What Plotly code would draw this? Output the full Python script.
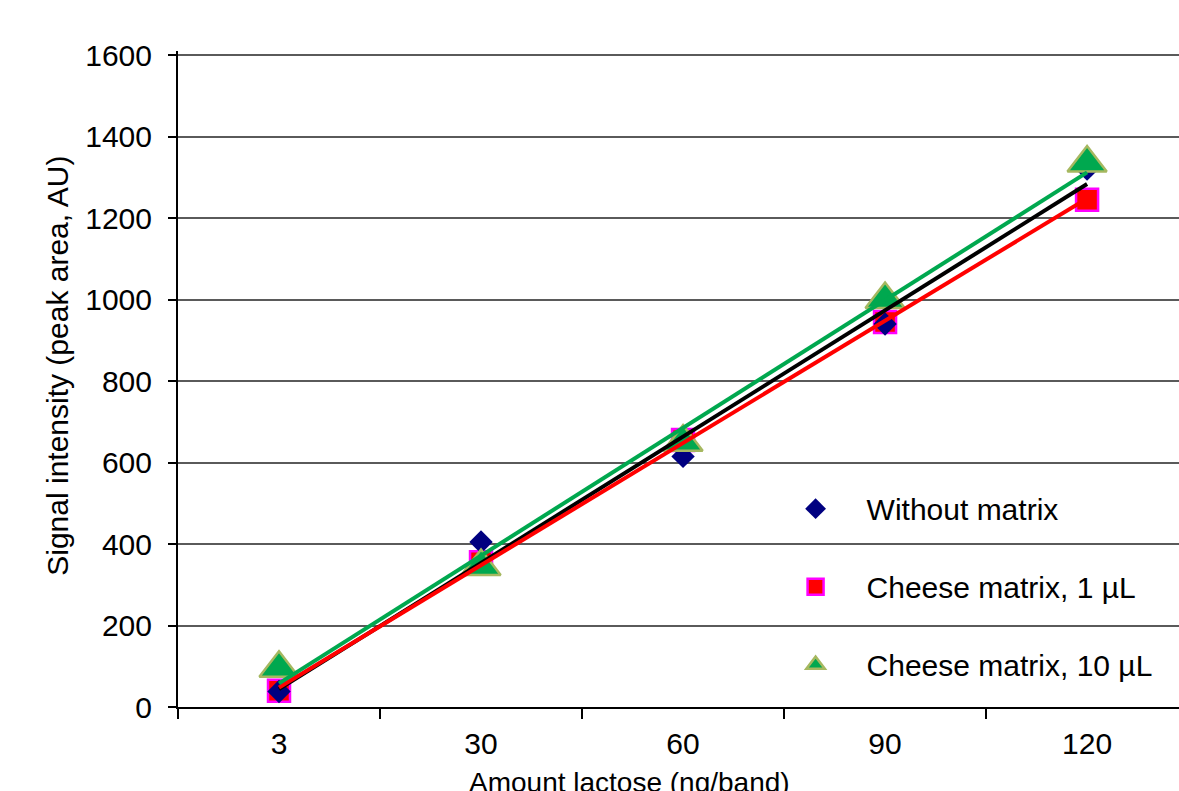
import numpy as np
import plotly.graph_objects as go

# ---- data ----
categories = ["3", "30", "60", "90", "120"]
without_matrix = [38, 405, 615, 940, 1320]
cheese_1ul = [40, 355, 655, 945, 1245]
cheese_10ul = [95, 345, 650, 1000, 1335]
y_ticks = [0, 200, 400, 600, 800, 1000, 1200, 1400, 1600]

series_names = ["Without matrix", "Cheese matrix, 1 µL", "Cheese matrix, 10 µL"]

FONT = "Liberation Sans, Arial, sans-serif"
NAVY = "#000080"
RED = "#FF0000"
MAGENTA = "#FF00FF"
GREEN = "#00A84F"
OLIVE = "#A6B860"


def trend(vals):
    idx = np.arange(len(vals))
    k, b = np.polyfit(idx, vals, 1)
    return list(k * idx + b)


fig = go.Figure()

# markers (square drawn first, diamond over it, triangle on top)
fig.add_trace(go.Scatter(
    x=categories, y=cheese_1ul, mode="markers", name=series_names[1],
    legendgroup="b", legendrank=2,
    marker=dict(symbol="square", size=22, color=RED,
                line=dict(color=MAGENTA, width=2.5)),
    cliponaxis=False))
fig.add_trace(go.Scatter(
    x=categories, y=without_matrix, mode="markers", name=series_names[0],
    legendgroup="a", legendrank=1,
    marker=dict(symbol="diamond", size=18, color=NAVY,
                line=dict(color=NAVY, width=0)),
    cliponaxis=False))
fig.add_trace(go.Scatter(
    x=categories, y=cheese_10ul, mode="markers", name=series_names[2],
    legendgroup="c", legendrank=3,
    marker=dict(symbol="triangle-up", size=34, color=GREEN,
                line=dict(color=OLIVE, width=2.5)),
    cliponaxis=False))

# linear trend lines
fig.add_trace(go.Scatter(x=categories, y=trend(without_matrix), mode="lines",
                         line=dict(color="black", width=4), showlegend=False,
                         hoverinfo="skip"))
fig.add_trace(go.Scatter(x=categories, y=trend(cheese_1ul), mode="lines",
                         line=dict(color=RED, width=4), showlegend=False,
                         hoverinfo="skip"))
fig.add_trace(go.Scatter(x=categories, y=trend(cheese_10ul), mode="lines",
                         line=dict(color=GREEN, width=4), showlegend=False,
                         hoverinfo="skip"))

fig.update_layout(
    width=1179, height=791,
    margin=dict(l=178, r=0, t=51, b=84),
    paper_bgcolor="white", plot_bgcolor="white",
    font=dict(family=FONT, color="black", size=30),
    showlegend=True,
    legend=dict(
        x=0.586, y=0.342, xanchor="left", yanchor="top",
        bgcolor="rgba(0,0,0,0)", borderwidth=0,
        font=dict(family=FONT, size=30, color="black"),
        traceorder="grouped", tracegroupgap=36, itemwidth=92,
    ),
    xaxis=dict(
        type="category", categoryorder="array", categoryarray=categories,
        range=[-0.5, 4.455],
        showgrid=False, zeroline=False,
        showline=True, linecolor="black", linewidth=2,
        ticks="outside", tickson="boundaries", ticklen=10,
        tickwidth=2, tickcolor="black",
        tickfont=dict(family=FONT, size=30, color="black"),
        ticklabelstandoff=9,
    ),
    yaxis=dict(
        range=[0, 1610], tickvals=y_ticks,
        showgrid=True, gridcolor="#5a5a5a", gridwidth=2,
        zeroline=False,
        showline=True, linecolor="black", linewidth=2,
        ticks="outside", ticklen=8, tickwidth=2, tickcolor="black",
        tickfont=dict(family=FONT, size=30, color="black"),
        ticklabelstandoff=10,
    ),
    annotations=[
        dict(text="Amount lactose (ng/band)", xref="paper", yref="paper",
             x=0.4515, y=-0.089, xanchor="center", yanchor="top",
             showarrow=False, font=dict(family=FONT, size=28, color="black")),
        dict(text="Signal intensity (peak area, AU)", xref="paper",
             yref="paper", x=-0.12, y=0.52, xanchor="center",
             yanchor="middle", textangle=-90, showarrow=False,
             font=dict(family=FONT, size=30, color="black")),
    ],
)

fig.write_html(
    "out.html",
    config={"displayModeBar": False},
    post_script="document.body.style.margin='0';"
                "document.body.style.overflow='hidden';",
)
